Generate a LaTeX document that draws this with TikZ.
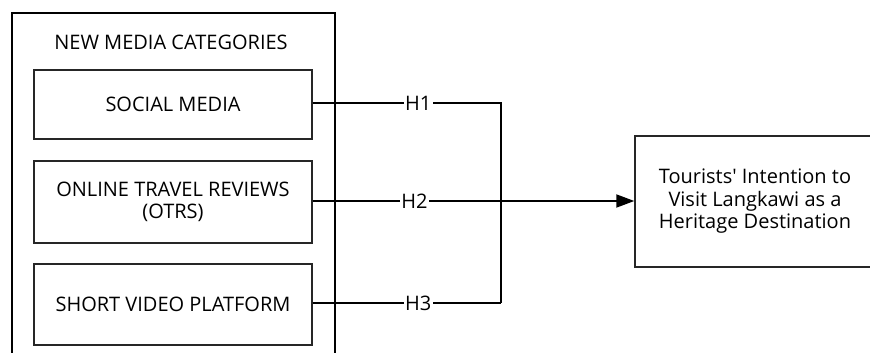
\documentclass[tikz,border=0pt]{standalone}
\usepackage{fontspec}
\setmainfont{Open Sans}
\usetikzlibrary{arrows.meta}
\begin{document}
\begin{tikzpicture}[x=1pt,y=-1pt,
  box/.style={draw=black!85,line width=1.4pt,minimum width=278pt,inner sep=0pt,align=center,font=\fontsize{20}{21.5}\selectfont},
  lbl/.style={fill=white,inner sep=1.5pt,font=\fontsize{20}{21}\selectfont},
  conn/.style={line width=1.8pt}]
\useasboundingbox (0,0) rectangle (870,353);
\clip (0,0) rectangle (870,353);
\node[draw,line width=1.8pt,minimum width=323pt,minimum height=348pt,anchor=north west,inner sep=0pt] (outer) at (11,12) {};
\node[font=\fontsize{20}{21}\selectfont] (title) at (171,42) {NEW MEDIA CATEGORIES};
\node[box,minimum height=69pt] (sm) at (173,104.5) {SOCIAL MEDIA};
\node[box,minimum height=82pt] (otr) at (173,202) {ONLINE TRAVEL REVIEWS\\(OTRS)};
\node[box,minimum height=81pt] (svp) at (173,304.5) {SHORT VIDEO PLATFORM};
\node[draw=black!85,line width=1.4pt,minimum width=240pt,minimum height=131pt,inner sep=0pt,align=center,font=\fontsize{20}{22.5}\selectfont] (tgt) at (755,201.5) {Tourists\textquotesingle\ Intention to\\Visit Langkawi as a\\Heritage Destination};
\coordinate (j1) at (501,103);
\coordinate (j2) at (501,201);
\coordinate (j3) at (501,303);
\draw[conn] (sm.east |- j1) -- node[lbl,pos=0.56] {H1} (j1) -- (j3);
\draw[conn] (otr.east |- j2) -- node[lbl,pos=0.54] {H2} (j2);
\draw[conn] (svp.east |- j3) -- node[lbl,pos=0.56] {H3} (j3);
\draw[conn,-{Triangle[length=18pt,width=13pt]}] (j2) -- (tgt.west |- j2);
\end{tikzpicture}
\end{document}
